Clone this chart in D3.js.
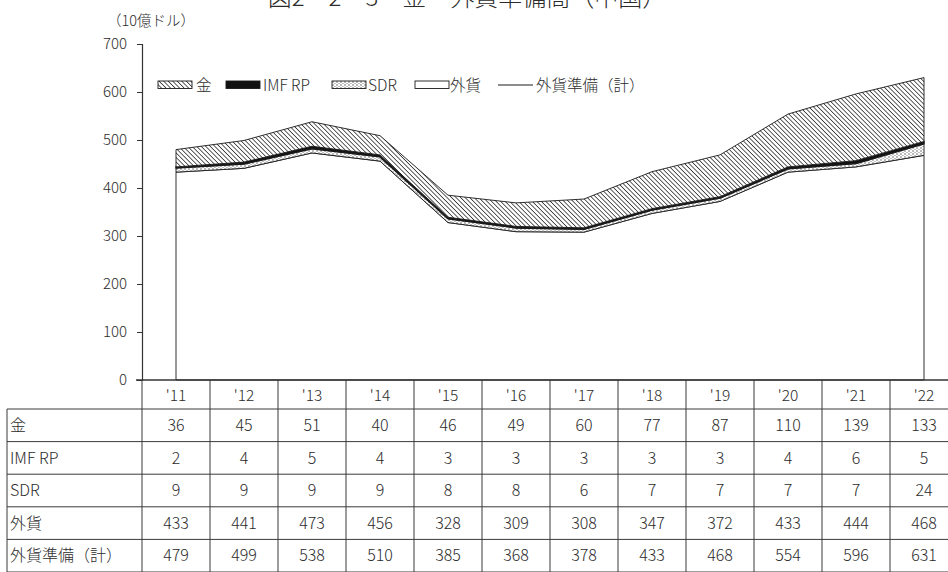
<!DOCTYPE html>
<html>
<head>
<meta charset="utf-8">
<script src="https://cdn.jsdelivr.net/npm/d3@7"></script>
<style>
  body { margin: 0; background: #fff; }
  svg { display: block; font-family: "Noto Sans CJK JP", "Noto Sans", sans-serif; font-weight: 300; }
  text { fill: #2b2b2b; }
</style>
</head>
<body>
<div id="chart"></div>
<script>
// data (10億ドル)
var years = ["'11", "'12", "'13", "'14", "'15", "'16", "'17", "'18", "'19", "'20", "'21", "'22"];
var gold = [36, 45, 51, 40, 46, 49, 60, 77, 87, 110, 139, 133];
var imfRp = [2, 4, 5, 4, 3, 3, 3, 3, 3, 4, 6, 5];
var sdr = [9, 9, 9, 9, 8, 8, 6, 7, 7, 7, 7, 24];
var forex = [433, 441, 473, 456, 328, 309, 308, 347, 372, 433, 444, 468];
var total = [479, 499, 538, 510, 385, 368, 378, 433, 468, 554, 596, 631];
var yTicks = [0, 100, 200, 300, 400, 500, 600, 700];

var rowNames = ["金", "IMF RP", "SDR", "外貨", "外貨準備（計）"];
var rowValues = [gold, imfRp, sdr, forex, total];

var width = 948, height = 572;
var svg = d3.select("#chart").append("svg")
    .attr("width", width).attr("height", height);

// patterns
var defs = svg.append("defs");
var hatch = defs.append("pattern").attr("id", "hatch")
    .attr("patternUnits", "userSpaceOnUse")
    .attr("width", 3.2).attr("height", 3.2)
    .attr("patternTransform", "rotate(-45)");
hatch.append("rect").attr("width", 3.2).attr("height", 3.2).attr("fill", "#fff");
hatch.append("line").attr("x1", 0).attr("y1", 0).attr("x2", 0).attr("y2", 3.2)
    .attr("stroke", "#1a1a1a").attr("stroke-width", 1.4);

var dots = defs.append("pattern").attr("id", "dots")
    .attr("patternUnits", "userSpaceOnUse")
    .attr("width", 4).attr("height", 3);
dots.append("rect").attr("width", 4).attr("height", 3).attr("fill", "#fff");
dots.append("circle").attr("cx", 1).attr("cy", 1).attr("r", 0.7).attr("fill", "#444");
dots.append("circle").attr("cx", 3).attr("cy", 2.5).attr("r", 0.6).attr("fill", "#777");

// scales
var x = d3.scaleBand().domain(years).range([142, 958]);
var y = d3.scaleLinear().domain([0, 700]).range([380, 44]);
var cx = function(d){ return x(d) + x.bandwidth() / 2; };

// title (cut off at top of the picture, as in the source)
svg.append("text")
    .attr("x", 467).attr("y", 6)
    .attr("text-anchor", "middle")
    .style("font-size", "24px")
    .text("図2－2－3　金・外貨準備高（中国）");

svg.append("text")
    .attr("x", 107).attr("y", 26)
    .style("font-size", "14.5px")
    .text("（10億ドル）");

// stacked areas
var rows = years.map(function(yr, i){
    return { year: yr, forex: forex[i], sdr: sdr[i], imf: imfRp[i], gold: gold[i] };
});
var keys = ["forex", "sdr", "imf", "gold"];
var fills = { forex: "#fff", sdr: "url(#dots)", imf: "#111", gold: "url(#hatch)" };
var series = d3.stack().keys(keys)(rows);

var area = d3.area()
    .x(function(d){ return cx(d.data.year); })
    .y0(function(d){ return y(d[0]); })
    .y1(function(d){ return y(d[1]); });

svg.append("g").selectAll("path")
    .data(series).enter()
    .append("path")
    .attr("d", area)
    .attr("fill", function(d){ return fills[d.key]; })
    .attr("stroke", "#1a1a1a")
    .attr("stroke-width", function(d){ return d.key == "imf" ? 1.6 : 0.9; })
    .attr("stroke-linejoin", "round");

// y axis
var yAxis = d3.axisLeft(y).tickValues(yTicks).tickSize(5).tickPadding(10);
var gy = svg.append("g").attr("transform", "translate(142,0)").call(yAxis);
gy.select(".domain").attr("stroke", "#333").attr("stroke-width", 1.2);
gy.selectAll(".tick line").attr("stroke", "#333");
gy.selectAll(".tick text").style("font-size", "15px").attr("fill", "#2b2b2b")
    .style("font-family", "'Noto Sans CJK JP', sans-serif").style("font-weight", 300);

// baseline
svg.append("line").attr("x1", 136).attr("x2", width).attr("y1", 380).attr("y2", 380)
    .attr("stroke", "#333").attr("stroke-width", 1.4);

// legend
var legend = svg.append("g").attr("transform", "translate(0,81)");
var legItems = [
    { label: "金", fill: "url(#hatch)", x: 158, tx: 196 },
    { label: "IMF RP", fill: "#111", x: 226, tx: 263 },
    { label: "SDR", fill: "url(#dots)", x: 332, tx: 368 },
    { label: "外貨", fill: "#fff", x: 415, tx: 450 }
];
legItems.forEach(function(it){
    legend.append("rect").attr("x", it.x).attr("y", 0).attr("width", 34).attr("height", 7.5)
        .attr("fill", it.fill).attr("stroke", "#1a1a1a").attr("stroke-width", 0.9);
    legend.append("text").attr("x", it.tx).attr("y", 4).attr("dy", "0.36em")
        .style("font-size", "15.5px").text(it.label);
});
legend.append("line").attr("x1", 498).attr("x2", 533).attr("y1", 4).attr("y2", 4)
    .attr("stroke", "#1a1a1a").attr("stroke-width", 1);
legend.append("text").attr("x", 536).attr("y", 4).attr("dy", "0.36em")
    .style("font-size", "15.5px").text("外貨準備（計）");

// data table
var rowTop = 409, rowH = 32.6, tableLeft = 7;
var table = svg.append("g");
var lineCol = "#3a3a3a";

// header row
table.selectAll(".hdr").data(years).enter().append("text")
    .attr("x", cx).attr("y", 395).attr("dy", "0.36em")
    .attr("text-anchor", "middle").style("font-size", "15.5px")
    .text(function(d){ return d; });

// horizontal lines
d3.range(rowNames.length + 1).forEach(function(k){
    table.append("line")
        .attr("x1", tableLeft).attr("x2", width)
        .attr("y1", rowTop + k * rowH).attr("y2", rowTop + k * rowH)
        .attr("stroke", lineCol).attr("stroke-width", 1);
});
// vertical lines
table.append("line").attr("x1", tableLeft).attr("x2", tableLeft)
    .attr("y1", rowTop).attr("y2", height).attr("stroke", lineCol);
years.forEach(function(yr){
    table.append("line").attr("x1", x(yr)).attr("x2", x(yr))
        .attr("y1", 380).attr("y2", height).attr("stroke", lineCol).attr("stroke-width", 1);
});

rowNames.forEach(function(name, r){
    var ym = rowTop + r * rowH + rowH / 2;
    table.append("text").attr("x", tableLeft + 3).attr("y", ym).attr("dy", "0.36em")
        .style("font-size", "16px").text(name);
    table.selectAll(".v" + r).data(rowValues[r]).enter().append("text")
        .attr("x", function(d, i){ return cx(years[i]); })
        .attr("y", ym).attr("dy", "0.36em")
        .attr("text-anchor", "middle").style("font-size", "16px")
        .text(function(d){ return d; });
});
</script>
</body>
</html>
